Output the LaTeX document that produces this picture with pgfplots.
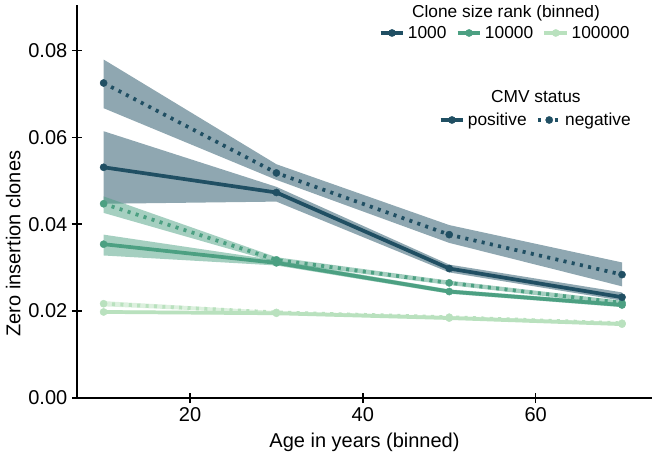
\documentclass[border=0pt]{standalone}
\usepackage{fontspec}
\setmainfont{Liberation Sans}
\usepackage{pgfplots}
\pgfplotsset{compat=1.18}
\definecolor{cdark}{RGB}{32,79,99}
\definecolor{cmid}{RGB}{76,160,130}
\definecolor{clight}{RGB}{185,225,190}
\pgfplotsset{
  ser/.style={line width=2.8pt, mark=*, mark size=2.7pt, mark options={solid, line width=0.3pt}},
  dots/.style={dash pattern=on 2.3pt off 4pt},
  band/.style={draw=none, fill=#1, fill opacity=0.5, forget plot},
  leg/.style={draw=none, fill=none, inner sep=0pt, font=\fontsize{13}{15}\selectfont,
    nodes={inner sep=2pt}, /tikz/every even column/.append style={column sep=5pt}},
}
\begin{document}
\begin{tikzpicture}[font=\fontsize{15}{18}\selectfont]
\useasboundingbox (-57.75pt,-44.25pt) rectangle (431.25pt,298.5pt);
\begin{axis}[
  scale only axis, width=431.25pt, height=294.75pt,
  xmin=6.92, xmax=73.47, ymin=0, ymax=0.09045,
  axis x line*=bottom, axis y line*=left,
  axis line style={line width=1.2pt, black},
  xtick={20,40,60}, ytick={0,0.02,0.04,0.06,0.08},
  tick align=center, major tick length=7.5pt, tick style={line width=1.2pt, black},
  /pgf/number format/assume math mode=true,
  y tick label style={/pgf/number format/fixed, /pgf/number format/fixed zerofill, /pgf/number format/precision=2},
  scaled y ticks=false,
  xlabel={Age in years (binned)}, ylabel={Zero insertion clones},
  label style={font=\fontsize{15}{18}\selectfont},
  ylabel style={at={(axis description cs:-0.111,0.393)}, anchor=center},
  xlabel style={at={(axis description cs:0.5,-0.112)}, anchor=center},
  legend style={leg, at={(axis description cs:0.966,0.9288)}, anchor=east},
  legend columns=3,
]
% bands
\addplot[band=cdark] coordinates {(10,0.0779)(30,0.0538)(50,0.0398)(70,0.0312)(70,0.0257)(50,0.0357)(30,0.0502)(10,0.0667)};
\addplot[band=cdark] coordinates {(10,0.0614)(30,0.0486)(50,0.0307)(70,0.0243)(70,0.0224)(50,0.0289)(30,0.0452)(10,0.0447)};
\addplot[band=cmid] coordinates {(10,0.0464)(30,0.0324)(50,0.0270)(70,0.0224)(70,0.0214)(50,0.0260)(30,0.0312)(10,0.0426)};
\addplot[band=cmid] coordinates {(10,0.0376)(30,0.0317)(50,0.0250)(70,0.0219)(70,0.0209)(50,0.0240)(30,0.0305)(10,0.0328)};
\addplot[band=clight] coordinates {(10,0.0223)(30,0.0200)(50,0.0189)(70,0.0175)(70,0.0169)(50,0.0183)(30,0.0194)(10,0.0211)};
\addplot[band=clight] coordinates {(10,0.0202)(30,0.0198)(50,0.0187)(70,0.0173)(70,0.0167)(50,0.0181)(30,0.0192)(10,0.0194)};
% lines
\addplot[clight, ser, dots, forget plot] coordinates {(10,0.0217)(30,0.0197)(50,0.0186)(70,0.0172)};
\addplot[clight, ser, forget plot] coordinates {(10,0.0198)(30,0.0195)(50,0.0184)(70,0.0170)};
\addplot[cmid, ser, dots, forget plot] coordinates {(10,0.0447)(30,0.0318)(50,0.0265)(70,0.0219)};
\addplot[cmid, ser, forget plot] coordinates {(10,0.0354)(30,0.0311)(50,0.0245)(70,0.0214)};
\addplot[cdark, ser, dots, forget plot] coordinates {(10,0.0725)(30,0.0518)(50,0.0376)(70,0.0284)};
\addplot[cdark, ser, forget plot] coordinates {(10,0.0531)(30,0.0473)(50,0.0298)(70,0.0232)};
% legend
\addlegendimage{cdark, ser}\addlegendentry{1000}
\addlegendimage{cmid, ser}\addlegendentry{10000}
\addlegendimage{clight, ser}\addlegendentry{100000}
\node[font=\fontsize{13}{15}\selectfont] at (axis description cs:0.746,0.9796) {Clone size rank (binned)};
\node[font=\fontsize{13}{15}\selectfont] at (axis description cs:0.798,0.766) {CMV status};
\end{axis}
\begin{axis}[
  scale only axis, width=431.25pt, height=294.75pt,
  xmin=6.92, xmax=73.47, ymin=0, ymax=0.09045, hide axis,
  legend style={leg, at={(axis description cs:0.968,0.7074)}, anchor=east},
  legend columns=2,
]
\addlegendimage{cdark, ser}\addlegendentry{positive}
\addlegendimage{cdark, ser, dots}\addlegendentry{negative}
\end{axis}
\end{tikzpicture}
\end{document}
